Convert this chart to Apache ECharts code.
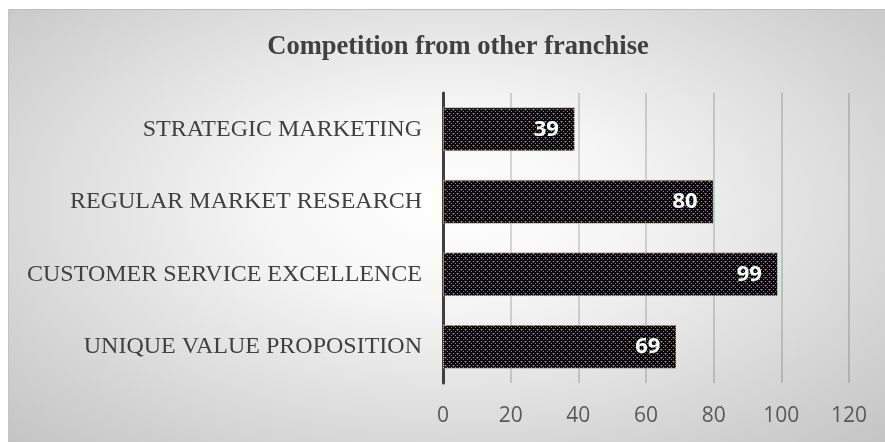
<!DOCTYPE html>
<html>
<head>
<meta charset="utf-8">
<script src="https://cdn.jsdelivr.net/npm/echarts@6/dist/echarts.min.js"></script>
<style>
  html, body { margin: 0; padding: 0; background: #ffffff; }
  #frame {
    position: absolute; left: 8px; top: 9px; right: 0; bottom: 0;
    background: radial-gradient(ellipse farthest-corner at 50% 45%, #ffffff 0%, #f6f6f6 28%, #c4c4c4 100%);
    border-top: 1px solid #bdbdbd;
    border-left: 1px solid #c4c4c4;
  }
  #chart { position: absolute; left: 0; top: 0; width: 885px; height: 442px; }
</style>
</head>
<body>
<div id="frame"></div>
<div id="chart"></div>
<script>
// Strategies, listed top to bottom
const categories = [
  'STRATEGIC MARKETING',
  'REGULAR MARKET RESEARCH',
  'CUSTOMER SERVICE EXCELLENCE',
  'UNIQUE VALUE PROPOSITION'
];
const values = [39, 80, 99, 69];
const axisTicks = { min: 0, max: 120, interval: 20 };
const titleText = 'Competition from other franchise';

// Dark speckled fill for the bars
function dottedPattern() {
  const c = document.createElement('canvas');
  c.width = 8; c.height = 8;
  const g = c.getContext('2d');
  g.fillStyle = '#080705';
  g.fillRect(0, 0, 8, 8);
  const px = (x, y, col) => { g.fillStyle = col; g.fillRect(x, y, 1, 1); };
  [[1,1],[5,1],[1,5],[5,5],[3,3],[7,7]].forEach(p => px(p[0], p[1], '#d2861f'));
  [[3,7],[7,3]].forEach(p => px(p[0], p[1], '#a9781f'));
  [[2,1],[1,2],[6,5],[5,6],[0,1],[4,5]].forEach(p => px(p[0], p[1], '#5c5230'));
  return c;
}

const chart = echarts.init(document.getElementById('chart'), null, { renderer: 'canvas' });
chart.setOption({
  animation: false,
  backgroundColor: 'transparent',
  title: {
    text: titleText,
    left: 453,
    textAlign: 'center',
    top: 29,
    textStyle: {
      fontFamily: 'Liberation Serif',
      fontWeight: 'bold',
      fontSize: 26.5,
      color: '#404040'
    }
  },
  grid: { left: 443, right: 36, top: 93, bottom: 59, containLabel: false },
  xAxis: {
    type: 'value',
    min: axisTicks.min,
    max: axisTicks.max,
    interval: axisTicks.interval,
    axisLine: { show: false },
    axisTick: { show: false },
    splitLine: { show: true, lineStyle: { color: 'rgba(0,0,0,0.2)', width: 1.5 } },
    axisLabel: {
      margin: 23,
      color: '#595959',
      fontFamily: 'Open Sans',
      fontSize: 21
    }
  },
  yAxis: {
    type: 'category',
    data: categories,
    inverse: true,
    axisLine: { show: true, lineStyle: { color: '#404040', width: 3 } },
    axisTick: { show: false },
    splitLine: { show: false },
    axisLabel: {
      margin: 21,
      color: '#404040',
      fontFamily: 'Liberation Serif',
      fontSize: 24
    }
  },
  series: [{
    type: 'bar',
    data: values,
    barWidth: 44,
    itemStyle: {
      color: { image: dottedPattern(), repeat: 'repeat' },
      borderColor: '#d8d8d8',
      borderWidth: 1,
      borderType: [1, 1]
    },
    label: {
      show: true,
      position: 'insideRight',
      distance: 16,
      color: '#ffffff',
      fontFamily: 'Open Sans',
      fontWeight: 'bold',
      fontSize: 22
    }
  }]
});
</script>
</body>
</html>
